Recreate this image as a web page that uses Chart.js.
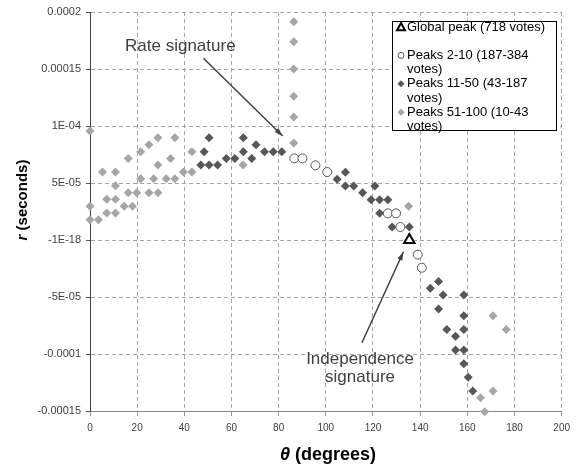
<!DOCTYPE html>
<html>
<head>
<meta charset="utf-8">
<script src="https://cdn.jsdelivr.net/npm/chart.js@4"></script>
<style>
  body { margin: 0; background: #fff; }
  canvas { display: block; }
</style>
</head>
<body>
<canvas id="chart-peaks" width="576" height="467"></canvas>
<script>
// theta in degrees, r in seconds
const globalTheta = [135.4];
const globalR = [0];

const peaks2Theta = [86.6, 90.1, 95.6, 100.6, 126.3, 129.8, 131.6, 139.0, 140.7];
const peaks2R = [7.16e-5, 7.16e-5, 6.55e-5, 5.96e-5, 2.34e-5, 2.34e-5, 1.14e-5, -1.28e-5, -2.43e-5];

const peaks11Theta = [47.0, 48.4, 50.5, 50.5, 54.1, 57.8, 61.4, 65.0, 65.0, 68.6, 70.4, 74.0, 77.7, 81.3,
    104.8, 108.3, 108.3, 111.8, 115.6, 120.8, 119.2, 122.8, 126.3, 122.8, 128.1, 135.4,
    144.3, 147.8, 149.7, 147.8, 158.5, 158.5, 151.3, 155.0, 158.5, 155.0, 158.5, 158.5, 160.4, 162.3];
const peaks11R = [6.58e-5, 7.75e-5, 8.97e-5, 6.58e-5, 6.58e-5, 7.16e-5, 7.16e-5, 8.97e-5, 7.75e-5, 7.16e-5, 8.36e-5, 7.75e-5, 7.75e-5, 7.75e-5,
    5.32e-5, 5.94e-5, 4.74e-5, 4.74e-5, 4.15e-5, 4.74e-5, 3.54e-5, 3.54e-5, 3.54e-5, 2.34e-5, 1.14e-5, 1.14e-5,
    -4.24e-5, -3.65e-5, -4.82e-5, -6.05e-5, -4.82e-5, -6.64e-5, -7.84e-5, -8.45e-5, -7.84e-5, -9.65e-5, -9.65e-5, -1.085e-4, -1.205e-4, -1.325e-4];

const peaks51Theta = [0, 0, 0, 3.6, 5.3, 7.1, 7.1, 10.8, 10.8, 10.8, 10.8, 14.5, 16.2, 16.2, 18.0, 19.8,
    21.5, 21.5, 25.0, 25.0, 27.0, 28.8, 28.8, 28.8, 32.3, 34.2, 36.0, 36.0, 39.6, 43.2, 43.2, 64.9,
    86.4, 86.4, 86.4, 86.4, 86.4, 86.4, 135.1, 170.9, 176.5, 170.9, 165.6, 167.4];
const peaks51R = [9.56e-5, 2.95e-5, 1.78e-5, 1.78e-5, 5.96e-5, 2.37e-5, 3.57e-5, 5.96e-5, 4.76e-5, 3.57e-5, 2.37e-5, 2.95e-5, 7.16e-5, 4.15e-5, 2.95e-5, 4.15e-5,
    7.75e-5, 5.38e-5, 8.36e-5, 4.15e-5, 5.38e-5, 8.97e-5, 6.58e-5, 4.15e-5, 5.38e-5, 7.16e-5, 8.97e-5, 5.38e-5, 5.96e-5, 5.96e-5, 7.75e-5, 6.58e-5,
    1.915e-4, 1.74e-4, 1.5e-4, 1.26e-4, 1.08e-4, 8.5e-5, 2.95e-5, -6.64e-5, -7.84e-5, -1.325e-4, -1.383e-4, -1.506e-4];

const yTickValues = [-0.00015, -0.0001, -0.00005, 0, 0.00005, 0.0001, 0.00015, 0.0002];
const yTickLabels = ['-0.00015', '-0.0001', '-5E-05', '-1E-18', '5E-05', '1E-04', '0.00015', '0.0002'];

const legendLines = [['Global peak (718 votes)'], ['Peaks 2-10 (187-384', 'votes)'], ['Peaks 11-50 (43-187', 'votes)'], ['Peaks 51-100 (10-43', 'votes)']];

const FONT = 'Liberation Sans, Arial, sans-serif';
const DARK = '#575757';
const LIGHT = '#a6a6a6';

const toPoints = (xs, ys) => xs.map((x, i) => ({x: x, y: ys[i]}));

function drawMarker(ctx, kind, x, y, s) {
    ctx.beginPath();
    if (kind === 'triangle') {
        ctx.moveTo(x, y - s);
        ctx.lineTo(x + s, y + s * 0.8);
        ctx.lineTo(x - s, y + s * 0.8);
        ctx.closePath();
        ctx.fillStyle = '#fff';
        ctx.fill();
        ctx.lineWidth = 2;
        ctx.strokeStyle = '#000';
        ctx.stroke();
    } else if (kind === 'circle') {
        ctx.arc(x, y, s, 0, Math.PI * 2);
        ctx.fillStyle = '#fff';
        ctx.fill();
        ctx.lineWidth = 1;
        ctx.strokeStyle = DARK;
        ctx.stroke();
    } else {
        ctx.moveTo(x, y - s);
        ctx.lineTo(x + s, y);
        ctx.lineTo(x, y + s);
        ctx.lineTo(x - s, y);
        ctx.closePath();
        ctx.fillStyle = kind;
        ctx.fill();
    }
}

function arrow(ctx, x1, y1, x2, y2) {
    const a = Math.atan2(y2 - y1, x2 - x1);
    ctx.beginPath();
    ctx.moveTo(x1, y1);
    ctx.lineTo(x2, y2);
    ctx.stroke();
    ctx.beginPath();
    ctx.moveTo(x2, y2);
    ctx.lineTo(x2 - 9 * Math.cos(a - 0.3), y2 - 9 * Math.sin(a - 0.3));
    ctx.lineTo(x2 - 9 * Math.cos(a + 0.3), y2 - 9 * Math.sin(a + 0.3));
    ctx.closePath();
    ctx.fill();
}

const extras = {
    id: 'extras',
    afterDatasetsDraw(chart) {
        const ctx = chart.ctx;
        const x = chart.scales.x;
        const y = chart.scales.y;
        ctx.save();

        // annotations
        ctx.fillStyle = '#404040';
        ctx.strokeStyle = '#404040';
        ctx.lineWidth = 1.5;
        ctx.font = '17px ' + FONT;
        ctx.textAlign = 'center';
        ctx.textBaseline = 'middle';
        ctx.fillText('Rate signature', x.getPixelForValue(38.3), y.getPixelForValue(1.70e-4));
        arrow(ctx, x.getPixelForValue(48.1), y.getPixelForValue(1.594e-4), x.getPixelForValue(81.7), y.getPixelForValue(9.12e-5));
        ctx.fillText('Independence', x.getPixelForValue(114.5), y.getPixelForValue(-1.046e-4));
        ctx.fillText('signature', x.getPixelForValue(114.5), y.getPixelForValue(-1.208e-4));
        arrow(ctx, x.getPixelForValue(115.3), y.getPixelForValue(-9.01e-5), x.getPixelForValue(132.9), y.getPixelForValue(-1.03e-5));

        // legend box
        ctx.fillStyle = '#fff';
        ctx.fillRect(392, 21, 164, 109);
        ctx.strokeStyle = '#000';
        ctx.lineWidth = 1;
        ctx.strokeRect(392.5, 21.5, 164, 109);
        const kinds = ['triangle', 'circle', DARK, LIGHT];
        const sizes = [4, 3, 3.5, 3.5];
        let line = 0;
        ctx.font = '13px ' + FONT;
        ctx.textAlign = 'left';
        legendLines.forEach((lines, i) => {
            const ly = 27 + line * 14.2;
            drawMarker(ctx, kinds[i], 401, ly, sizes[i]);
            ctx.fillStyle = '#000';
            lines.forEach((t, k) => ctx.fillText(t, 407, ly + k * 14.2));
            line += lines.length + (i === 0 ? 1 : 0);
        });

        // axis titles
        ctx.fillStyle = '#000';
        ctx.textAlign = 'left';
        ctx.font = 'italic bold 18px ' + FONT;
        const wTheta = ctx.measureText('θ').width;
        ctx.font = 'bold 18px ' + FONT;
        const wRest = ctx.measureText(' (degrees)').width;
        let tx = 328 - (wTheta + wRest) / 2;
        ctx.font = 'italic bold 18px ' + FONT;
        ctx.fillText('θ', tx, 455);
        ctx.font = 'bold 18px ' + FONT;
        ctx.fillText(' (degrees)', tx + wTheta, 455);

        ctx.translate(23, 200);
        ctx.rotate(-Math.PI / 2);
        ctx.font = 'italic bold 15px ' + FONT;
        const wR = ctx.measureText('r').width;
        ctx.font = 'bold 15px ' + FONT;
        const wSec = ctx.measureText(' (seconds)').width;
        tx = -(wR + wSec) / 2;
        ctx.font = 'italic bold 15px ' + FONT;
        ctx.fillText('r', tx, 0);
        ctx.font = 'bold 15px ' + FONT;
        ctx.fillText(' (seconds)', tx + wR, 0);

        ctx.restore();
    }
};

new Chart(document.getElementById('chart-peaks').getContext('2d'), {
    type: 'scatter',
    data: {
        datasets: [{
            label: 'Global peak (718 votes)',
            data: toPoints(globalTheta, globalR),
            pointStyle: 'triangle',
            pointRadius: 6,
            backgroundColor: '#fff',
            borderColor: '#000',
            borderWidth: 2,
            clip: false
        }, {
            label: 'Peaks 2-10 (187-384 votes)',
            data: toPoints(peaks2Theta, peaks2R),
            pointStyle: 'circle',
            pointRadius: 4.5,
            backgroundColor: '#fff',
            borderColor: DARK,
            borderWidth: 1,
            clip: false
        }, {
            label: 'Peaks 11-50 (43-187 votes)',
            data: toPoints(peaks11Theta, peaks11R),
            pointStyle: 'rectRot',
            pointRadius: 4.5,
            backgroundColor: DARK,
            borderColor: DARK,
            borderWidth: 0,
            clip: false
        }, {
            label: 'Peaks 51-100 (10-43 votes)',
            data: toPoints(peaks51Theta, peaks51R),
            pointStyle: 'rectRot',
            pointRadius: 4.5,
            backgroundColor: LIGHT,
            borderColor: LIGHT,
            borderWidth: 0,
            clip: false
        }]
    },
    options: {
        responsive: false,
        animation: false,
        layout: { padding: { left: 0, right: 9, top: 12, bottom: 0 } },
        plugins: {
            legend: { display: false },
            tooltip: { enabled: false }
        },
        scales: {
            x: {
                type: 'linear',
                min: 0,
                max: 200,
                ticks: { stepSize: 20, color: '#404040', font: { family: FONT, size: 10 }, padding: 6, maxRotation: 0 },
                grid: { color: '#a6a6a6', tickLength: 5, tickColor: '#999' },
                border: { color: '#888', width: 1, dash: [4, 3] },
                afterFit: s => { s.height = 56; }
            },
            y: {
                type: 'linear',
                min: -0.00015,
                max: 0.0002,
                afterBuildTicks: s => { s.ticks = yTickValues.map(v => ({ value: v })); },
                ticks: { color: '#404040', font: { family: FONT, size: 11 }, padding: 5, callback: (v, i) => yTickLabels[i] },
                grid: { color: '#a6a6a6', tickLength: 4, tickColor: '#555' },
                border: { color: '#404040', width: 1, dash: [4, 3] },
                afterFit: s => { s.width = 90; }
            }
        }
    },
    plugins: [extras]
});
</script>
</body>
</html>
